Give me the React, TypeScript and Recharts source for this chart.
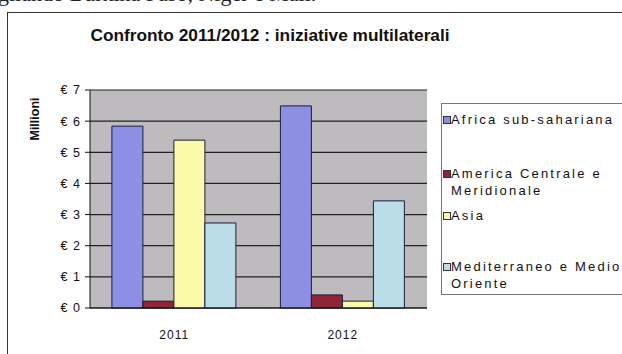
import React from "react";
import { BarChart, Bar, XAxis, YAxis, CartesianGrid } from "recharts";

const years = ["2011", "2012"];
const africa = [5.84, 6.49];
const america = [0.22, 0.42];
const asia = [5.39, 0.22];
const mediterraneo = [2.73, 3.44];
const yTicks = [0, 1, 2, 3, 4, 5, 6, 7];

const SERIES = [
  { key: "africa", name: "Africa sub-sahariana", color: "#8c8fe4", top: 7 },
  { key: "america", name: "America Centrale e Meridionale", color: "#8e2638", top: 61 },
  { key: "asia", name: "Asia", color: "#fbfaa8", top: 103 },
  { key: "mediterraneo", name: "Mediterraneo e Medio Oriente", color: "#badde7", top: 154 },
];

const data = years.map((year, i) => ({
  year,
  africa: africa[i],
  america: america[i],
  asia: asia[i],
  mediterraneo: mediterraneo[i],
}));

const font = "'Liberation Sans', Arial, sans-serif";

const LegendBox = () => (
  <div
    style={{
      position: "absolute",
      left: 441,
      top: 103,
      width: 200,
      height: 190,
      border: "1px solid #777",
      background: "#fff",
      fontFamily: font,
      fontSize: 13,
      letterSpacing: 2.2,
      color: "#111",
    }}
  >
    {SERIES.map((s) => (
      <div
        key={s.key}
        style={{ position: "absolute", left: 0, top: s.top, width: 200, lineHeight: "17px" }}
      >
        <span
          style={{
            position: "absolute",
            left: 1,
            top: 5,
            width: 6,
            height: 6,
            background: s.color,
            border: "1px solid #333",
          }}
        />
        <div style={{ paddingLeft: 9, width: 178 }}>{s.name}</div>
      </div>
    ))}
  </div>
);

export default function App() {
  return (
    <div
      style={{
        position: "absolute",
        left: 0,
        top: 0,
        width: 622,
        height: 354,
        overflow: "hidden",
        background: "#fff",
      }}
    >
      {/* cropped caption from the page above */}
      <div
        style={{
          position: "absolute",
          left: -2,
          top: -19,
          fontFamily: "'Liberation Serif', serif",
          fontSize: 22,
          whiteSpace: "nowrap",
          color: "#222",
        }}
      >
        gliando Burkina Faso, Niger e Mali.
      </div>
      {/* chart frame */}
      <div
        style={{
          position: "absolute",
          left: 7,
          top: 12,
          width: 700,
          height: 400,
          border: "1px solid #333",
        }}
      />
      <div
        style={{
          position: "absolute",
          left: 70,
          top: 25,
          width: 400,
          textAlign: "center",
          fontFamily: font,
          fontWeight: "bold",
          fontSize: 17.3,
          color: "#111",
        }}
      >
        Confronto 2011/2012 : iniziative multilaterali
      </div>
      <div
        style={{
          position: "absolute",
          left: 8,
          top: 112,
          width: 54,
          textAlign: "center",
          transform: "rotate(-90deg)",
          fontFamily: font,
          fontWeight: "bold",
          fontSize: 12.5,
          color: "#111",
        }}
      >
        Millioni
      </div>
      <div style={{ position: "absolute", left: 0, top: 0 }}>
        <BarChart
          width={622}
          height={354}
          data={data}
          margin={{ top: 90, right: 195, bottom: 16, left: 30 }}
          barCategoryGap="13%"
          barGap={0}
        >
          <CartesianGrid vertical={false} fill="#bebbbe" stroke="#222" strokeWidth={1.2} />
          <XAxis
            dataKey="year"
            height={30}
            axisLine={{ stroke: "#111" }}
            tickLine={false}
            tickMargin={16}
            tick={{ fontFamily: font, fontSize: 12, fill: "#111", letterSpacing: 1 }}
          />
          <YAxis
            width={60}
            domain={[0, 7]}
            ticks={yTicks}
            interval={0}
            tickFormatter={(v) => `€ ${v}`}
            axisLine={{ stroke: "#111" }}
            tickLine={{ stroke: "#111" }}
            tickSize={5}
            tickMargin={4}
            tick={{ fontFamily: font, fontSize: 12.5, fill: "#111", letterSpacing: 1 }}
          />
          {SERIES.map((s) => (
            <Bar
              key={s.key}
              dataKey={s.key}
              name={s.name}
              fill={s.color}
              stroke="#1c1c3a"
              strokeWidth={1}
              isAnimationActive={false}
            />
          ))}
        </BarChart>
      </div>
      <LegendBox />
    </div>
  );
}
